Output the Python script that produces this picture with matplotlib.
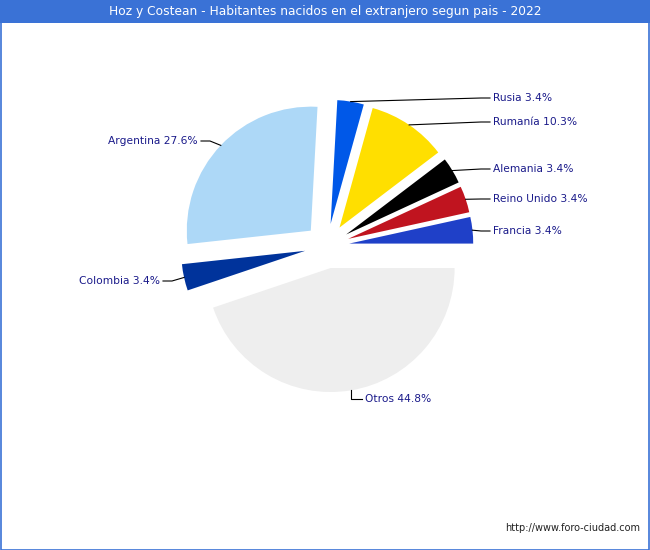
import numpy as np
import matplotlib
matplotlib.use("Agg")
import matplotlib.pyplot as plt
from matplotlib.patches import Rectangle

# data: people born abroad, by country (counts -> shares)
paises = ["Francia", "Reino Unido", "Alemania", "Rumanía", "Rusia",
          "Argentina", "Colombia", "Otros"]
habitantes = [1, 1, 1, 3, 1, 8, 1, 13]
colores = ["#1f40c8", "#c0141f", "#000000", "#ffdf00", "#0058e8",
           "#add8f7", "#00339b", "#eeeeee"]

# label text anchor in image pixels (x, y from top), and alignment
label_pos = [(493, 231, "left"), (493, 199, "left"), (493, 169, "left"),
             (493, 122, "left"), (493, 98, "left"), (198, 141, "right"),
             (160, 281, "right"), (365, 399, "left")]

W, H = 650, 550
fig = plt.figure(figsize=(W / 100, H / 100), dpi=100)
fig.patch.set_facecolor("white")

# title band + frame
fig.add_artist(Rectangle((0, (H - 23) / H), 1, 23 / H, transform=fig.transFigure,
                         facecolor="#3a72d6", edgecolor="none"))
fig.add_artist(Rectangle((0.5 / W, 0.5 / H), 1 - 1.5 / W, 1 - 1.0 / H,
                         transform=fig.transFigure, facecolor="none",
                         edgecolor="#3a72d6", lw=1.2))
fig.text(0.5, (H - 12) / H, "Hoz y Costean - Habitantes nacidos en el extranjero segun pais - 2022",
         ha="center", va="center", color="white", fontsize=8.8)
fig.text((W - 10) / W, (H - 528) / H, "http://www.foro-ciudad.com",
         ha="right", va="center", color="#222222", fontsize=7)

# pie axes: center at (327, 246) px, radius ~124 px
R = 124
cx, cy = 327, H - 246
ax = fig.add_axes([(cx - 1.5 * R) / W, (cy - 1.5 * R) / H, 3 * R / W, 3 * R / H])
ax.set_xlim(-1.5, 1.5)
ax.set_ylim(-1.5, 1.5)
ax.axis("off")

vals = np.array(habitantes, dtype=float)
wedges, _ = ax.pie(vals, colors=colores, explode=[0.18] * len(vals),
                   startangle=0, counterclock=True, radius=1,
                   wedgeprops=dict(linewidth=0))
ax.set_xlim(-1.5, 1.5)
ax.set_ylim(-1.5, 1.5)

pct = vals / vals.sum() * 100
for w, name, p, (tx, ty, ha) in zip(wedges, paises, pct, label_pos):
    mid = np.deg2rad((w.theta1 + w.theta2) / 2)
    ax_x = w.center[0] + w.r * np.cos(mid)
    ax_y = w.center[1] + w.r * np.sin(mid)
    px, py = ax.transData.transform((ax_x, ax_y))
    ty_f = H - ty
    if ha == "left":
        knee = (tx - 12, ty_f)
        tline = tx - 3
    else:
        knee = (tx + 12, ty_f)
        tline = tx + 3
    if name == "Otros":
        knee = (px, ty_f)
    fig.add_artist(plt.Line2D([px / W, knee[0] / W, tline / W],
                              [py / H, knee[1] / H, ty_f / H],
                              color="black", lw=0.8))
    fig.text(tx / W, ty_f / H, f"{name} {p:.1f}%", ha=ha, va="center",
             color="#1a1a8a", fontsize=7.7)

fig.savefig("out.png", dpi=100, facecolor="white")
